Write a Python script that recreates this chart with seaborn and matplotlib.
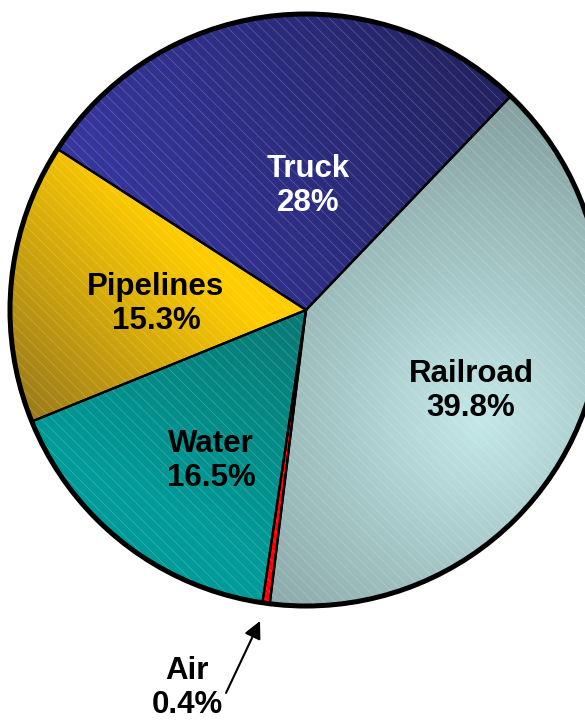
import numpy as np
import matplotlib
matplotlib.use("Agg")
import matplotlib.pyplot as plt
import seaborn as sns
from matplotlib.colors import to_rgb

# ---------------- data ----------------
categories = ["Railroad", "Air", "Water", "Pipelines", "Truck"]
shares = [39.8, 0.4, 16.5, 15.3, 28.0]

# ---------------- style ----------------
sns.set_theme(style="white")
plt.rcParams["font.family"] = ["Liberation Sans", "DejaVu Sans"]
plt.rcParams["hatch.linewidth"] = 0.45

W_PX, H_PX = 585, 723
CX, CY, RPX = 306, 310, 296  # pie centre / radius in pixels


def px(xp, yp):
    return ((xp - CX) / RPX, (CY - yp) / RPX)


x0, x1 = -CX / RPX, (W_PX - CX) / RPX
y0, y1 = -(H_PX - CY) / RPX, CY / RPX

fig = plt.figure(figsize=(W_PX / 100, H_PX / 100), dpi=100)
ax = fig.add_axes([0, 0, 1, 1])

START = 46.25
# hatch layer (fill comes from gradient images clipped to the wedges)
wedges, _ = ax.pie(
    shares, startangle=START, counterclock=False, radius=1.0,
    wedgeprops=dict(facecolor="none", edgecolor=(1, 1, 1, 0.25),
                    linewidth=0, hatch="\\\\\\"),
)
for w in wedges:
    w.set_zorder(2)

# gradient fills per wedge
gx = np.linspace(x0, x1, 300)
gy = np.linspace(y0, y1, 370)
GX, GY = np.meshgrid(gx, gy)


def linear(p0, p1, c0, c1):
    a = np.array(px(*p0)); b = np.array(px(*p1))
    d = b - a
    t = ((GX - a[0]) * d[0] + (GY - a[1]) * d[1]) / (d @ d)
    t = np.clip(t, 0, 1)[..., None]
    c0 = np.array(to_rgb(c0)); c1 = np.array(to_rgb(c1))
    return c0 + t * (c1 - c0)


def radial(p, rad, c0, c1):
    a = np.array(px(*p))
    t = np.hypot(GX - a[0], GY - a[1]) / rad
    t = np.clip(t, 0, 1)[..., None]
    c0 = np.array(to_rgb(c0)); c1 = np.array(to_rgb(c1))
    return c0 + t * (c1 - c0)


fills = {
    "Railroad": radial((480, 420), 1.05, "#c3e8e8", "#86a2a2"),
    "Air": linear((0, 0), (1, 1), "#ff0000", "#ff0000"),
    "Water": linear((295, 320), (190, 520), "#097a75", "#009b98"),
    "Pipelines": linear((200, 260), (30, 420), "#ffcc00", "#9a7a1a"),
    "Truck": linear((90, 220), (480, 70), "#3737a0", "#232362"),
}
for cat, w in zip(categories, wedges):
    im = ax.imshow(fills[cat], extent=[x0, x1, y0, y1], origin="lower",
                   interpolation="bilinear", zorder=1)
    im.set_clip_path(w)

# outlines
outl, _ = ax.pie(
    shares, startangle=START, counterclock=False, radius=1.0,
    wedgeprops=dict(facecolor="none", edgecolor="black", linewidth=1.6),
)
for w in outl:
    w.set_zorder(3)
ax.add_patch(plt.Circle((0, 0), 1.0, fill=False, ec="black", lw=3.6, zorder=4))

# labels
label_pos = {
    "Truck": (308, 186),
    "Railroad": (471, 391),
    "Pipelines": (156, 304),
    "Water": (211, 461),
    "Air": (187, 688),
}
label_col = {"Truck": "white"}
for cat, val in zip(categories, shares):
    ax.text(*px(*label_pos[cat]), f"{cat}\n{val:g}%", ha="center", va="center",
            fontsize=22.5, fontweight="bold", linespacing=1.15,
            color=label_col.get(cat, "black"), zorder=6)

ax.annotate("", xy=px(260, 621), xytext=px(226, 693),
            arrowprops=dict(arrowstyle="-|>", color="black", lw=1.5,
                            mutation_scale=26, shrinkA=0, shrinkB=0),
            zorder=6)

ax.set_xlim(x0, x1)
ax.set_ylim(y0, y1)
ax.set_aspect("auto")
ax.set_autoscale_on(False)
ax.axis("off")

fig.savefig("out.png", dpi=100)
